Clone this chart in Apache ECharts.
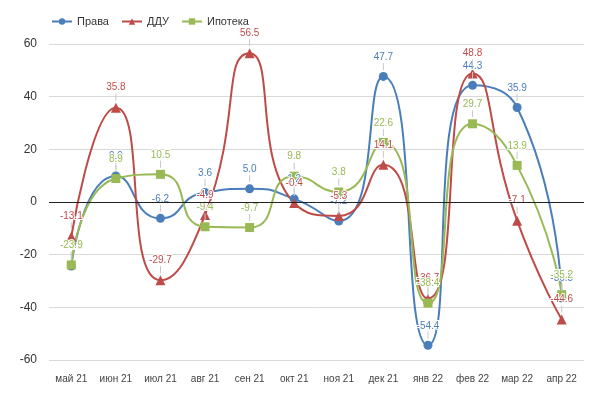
<!DOCTYPE html>
<html><head><meta charset="utf-8">
<script src="https://cdn.jsdelivr.net/npm/echarts@6/dist/echarts.min.js"></script>
<style>html,body{margin:0;padding:0;background:#fff}#c{width:600px;height:394px}</style>
</head><body><div id="c"></div>
<script>
const categories = ['май 21','июн 21','июл 21','авг 21','сен 21','окт 21','ноя 21','дек 21','янв 22','фев 22','мар 22','апр 22'];
const prava = [-24.3, 9.9, -6.2, 3.6, 5.0, 1.2, -7.2, 47.7, -54.4, 44.3, 35.9, -36.5];
const ddu = [-13.1, 35.8, -29.7, -4.9, 56.5, -0.4, -5.3, 14.1, -36.7, 48.8, -7.1, -44.6];
const ipoteka = [-23.9, 8.9, 10.5, -9.4, -9.7, 9.8, 3.8, 22.6, -38.4, 29.7, 13.9, -35.2];
const yTicks = [-60, -40, -20, 0, 20, 40, 60];

const chart = echarts.init(document.getElementById('c'));
function mk(name, data, color, symbol, size, extra) {
  return Object.assign({
    name, type: 'line', data, smooth: 0.6,
    symbol, symbolSize: size,
    itemStyle: {color},
    lineStyle: {color, width: 2},
    label: {show: true, position: 'top', distance: 2,
      formatter: p => '{v|' + p.value.toFixed(1) + '}\n{b|}',
      rich: {
        v: {color, fontSize: 10, fontFamily: 'Arial', textBorderColor: '#fff', textBorderWidth: 2, align: 'center', lineHeight: 12},
        b: {width: 1, height: 7, backgroundColor: '#c8c8c8', align: 'center'}
      }},
    z: 3
  }, extra || {});
}
chart.setOption({
  animation: false,
  legend: {
    top: 11, left: 46, itemWidth: 20, itemHeight: 8, itemGap: 12,
    textStyle: {fontSize: 11, color: '#333', fontFamily: 'Arial'},
    data: ['Права', 'ДДУ', 'Ипотека']
  },
  grid: {left: 49, right: 16, top: 44, bottom: 34},
  xAxis: {
    type: 'category', data: categories, boundaryGap: true,
    axisLine: {show: false}, axisTick: {show: false},
    axisLabel: {fontSize: 10, color: '#444', fontFamily: 'Arial', margin: 14}
  },
  yAxis: {
    type: 'value', min: yTicks[0], max: yTicks[yTicks.length - 1], interval: 20,
    axisLine: {show: false}, axisTick: {show: false},
    axisLabel: {fontSize: 12, color: '#333', fontFamily: 'Arial', margin: 12},
    splitLine: {lineStyle: {color: '#d9d9d9'}}
  },
  series: [
    mk('Права', prava, '#4a7ebb', 'circle', 9, {
      markLine: {silent: true, symbol: 'none', label: {show: false},
        lineStyle: {color: '#222', type: 'solid', width: 1},
        data: [{yAxis: 0}]}
    }),
    mk('ДДУ', ddu, '#be4b48', 'triangle', 10),
    mk('Ипотека', ipoteka, '#98b954', 'rect', 9)
  ]
});
</script></body></html>
